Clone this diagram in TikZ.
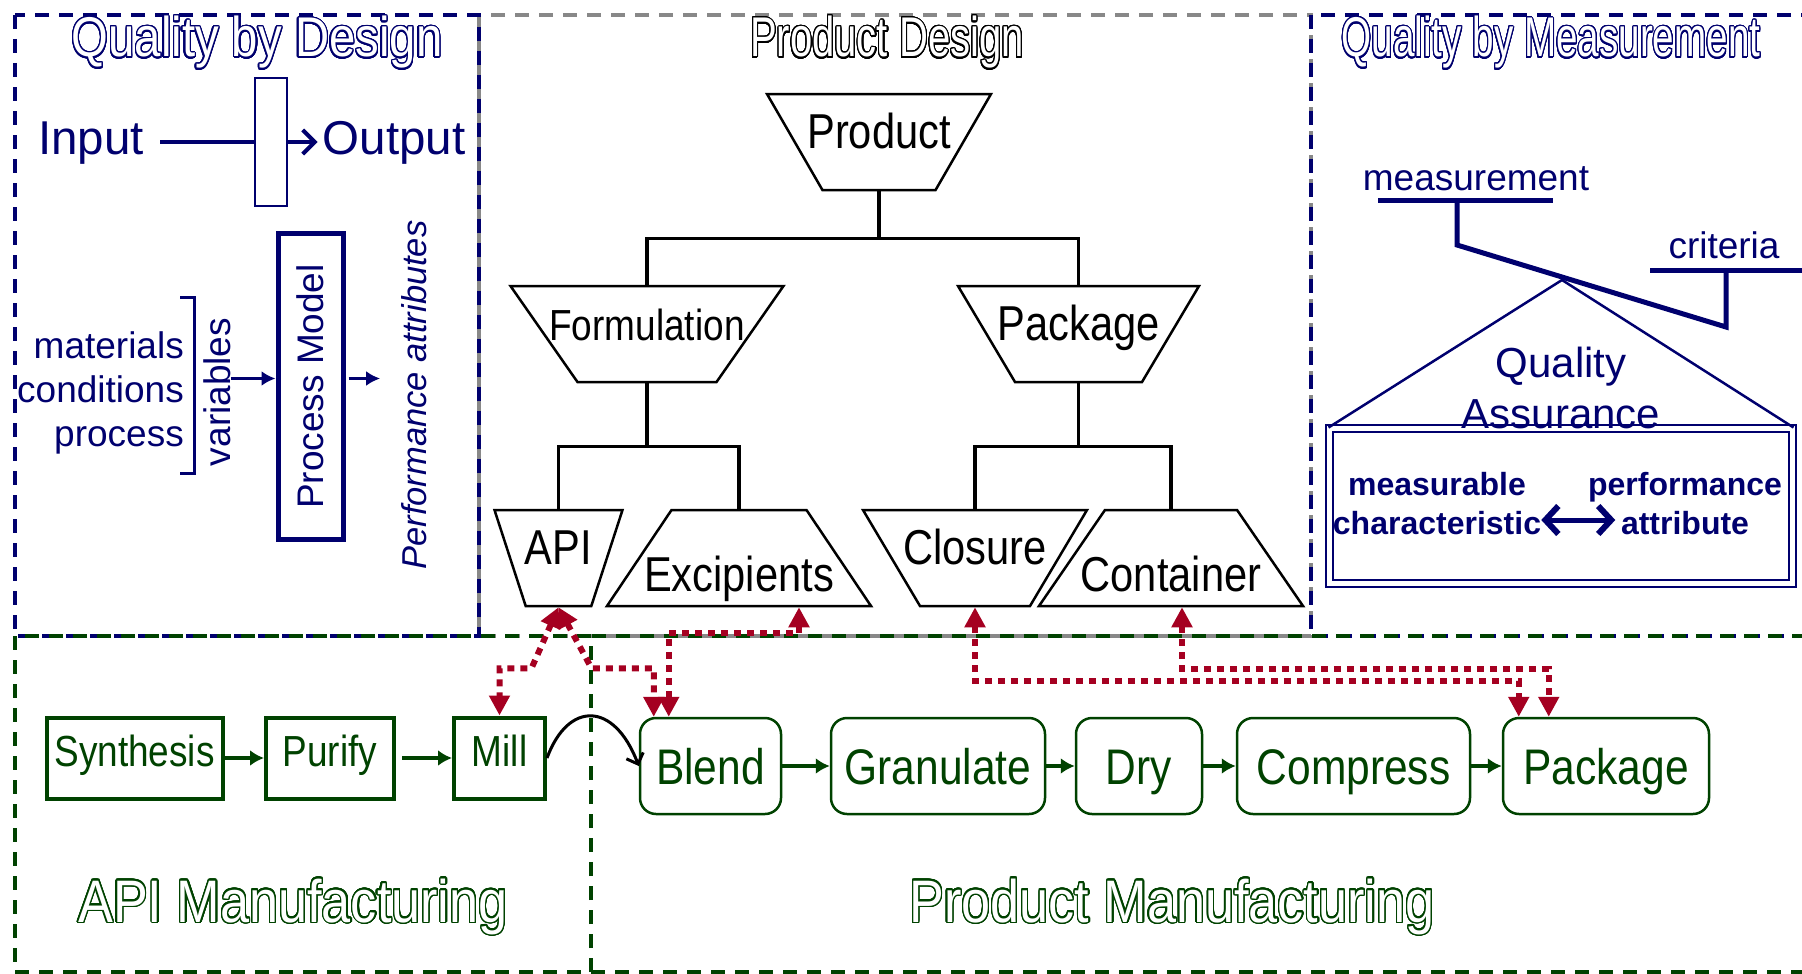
\documentclass[tikz,border=0pt]{standalone}
\usepackage{fontspec}
\setmainfont{Liberation Sans}
\newfontfamily\narrowfont{Liberation Sans}[FakeStretch=0.85]
\usepackage{graphicx}
\usepackage[copies]{contour}
\contourlength{1.5pt}
\contournumber{32}
\usetikzlibrary{arrows.meta,shapes.geometric,positioning}
\definecolor{qnavy}{RGB}{0,0,110}
\definecolor{mgreen}{RGB}{0,66,0}
\definecolor{linkred}{RGB}{165,0,33}
\definecolor{pdgray}{RGB}{136,136,136}
\newcommand{\hollow}[3]{\scalebox{#2}[1]{\contour{#1}{\textcolor{white}{#3}}}}
\begin{document}
\begin{tikzpicture}[x=1pt,y=-1pt,
  frame/.style={line width=3.5pt,dash pattern=on 14pt off 10pt},
  heading/.style={anchor=base,inner sep=0pt,font=\fontsize{56}{56}\selectfont},
  qtext/.style={text=qnavy,inner sep=0pt,font=\fontsize{37}{44}\selectfont},
  qarrow/.style={draw=qnavy,line width=3.5pt,-{Latex[length=14pt,width=15pt]}},
  trap/.style={draw,line width=2.5pt,trapezium,trapezium stretches body,minimum height=96pt,inner sep=0pt,font=\narrowfont\fontsize{49}{49}\selectfont},
  trapup/.style={trap,text height=54pt,text depth=42pt},
  traplow/.style={trap,text height=81pt,text depth=15pt},
  tree/.style={line width=3.5pt},
  abox/.style={draw=mgreen,line width=4pt,text=mgreen,inner sep=0pt,minimum height=81pt,text height=32pt,text depth=15pt,font=\narrowfont\fontsize{43.5}{43.5}\selectfont},
  mbox/.style={draw=mgreen,line width=2.5pt,rounded corners=16pt,text=mgreen,inner sep=0pt,minimum height=96pt,text height=36pt,text depth=0pt,font=\narrowfont\fontsize{50}{50}\selectfont},
  garrow/.style={draw=mgreen,line width=4.5pt,-{Latex[length=14pt,width=16pt]}},
  link/.style={draw=linkred,line width=6pt,dash pattern=on 7pt off 6pt,{Triangle[length=20pt,width=20pt]}-{Triangle[length=20pt,width=20pt]}}]
\useasboundingbox (0,0) rectangle (1802,974);
% frames
\draw[frame,draw=pdgray] (479,15) rectangle (1311,636);
\draw[frame,draw=qnavy] (15,15) rectangle (479,636);
\draw[frame,draw=qnavy] (1311,15) rectangle (1830,636);
\draw[frame,draw=mgreen] (15,636) rectangle (591,972);
\draw[frame,draw=mgreen] (1830,636) -- (591,636) (591,972) -- (1830,972);

% quality by design
\node[heading] (qbdtitle) at (257,57) {\hollow{qnavy}{0.845}{Quality by Design}};
\node[qtext,anchor=base,font=\fontsize{47.5}{50}\selectfont] (input) at (91,154) {Input};
\node[qtext,anchor=base,font=\fontsize{47.5}{50}\selectfont] (output) at (394,154) {Output};
\node[draw=qnavy,line width=1.5pt,minimum width=32pt,minimum height=128pt,inner sep=0pt] (gate) at (271,142) {};
\draw[qnavy,line width=4pt,shorten <=16pt] (input.east |- gate.west) -- (gate.west);
\draw[qnavy,line width=4pt,shorten >=5pt,-{Straight Barb[length=12pt,width=24pt,line width=4pt]}] (gate.east) -- (output.west |- gate.east);
\node[qtext,draw=qnavy,line width=5pt,minimum width=65pt,minimum height=306pt] (model) at (310.5,386.5) {\rotatebox{90}{Process Model}};
\node[qtext,anchor=east,align=right] (inputs) at (184,393) {materials\\conditions\\process};
\draw[qnavy,line width=3pt] (180,297) -- (194,297) -- (194,473) -- (180,473);
\node[qtext] (vars) at (217,392) {\rotatebox{90}{variables}};
\coordinate (vin) at ([yshift=8pt]model.west);
\draw[qarrow] (vin -| vars.east) -- (vin);
\node[qtext,font=\itshape\fontsize{34.5}{40}\selectfont] (perf) at (414,395) {\rotatebox{90}{Performance attributes}};
\coordinate (vout) at ([yshift=8pt]model.east);
\draw[qarrow,shorten <=3pt,shorten >=21pt] (vout) -- (vout -| perf.west);

% product design
\node[heading] (pdtitle) at (887,57) {\hollow{black}{0.715}{Product Design}};
\node[trapup,trapezium left angle=120,trapezium right angle=120,minimum width=224pt] (product) at (879,142) {\makebox[0pt]{Product}};
\node[trapup,trapezium left angle=124.9,trapezium right angle=124.9,minimum width=273pt,font=\narrowfont\fontsize{43.5}{43.5}\selectfont] (formulation) at (647,334) {\makebox[0pt]{Formulation}};
\node[trapup,trapezium left angle=120.7,trapezium right angle=120.7,minimum width=241pt] (package) at (1078.5,334) {\makebox[0pt]{Package}};
\node[trapup,trapezium left angle=108,trapezium right angle=108,minimum width=128pt] (api) at (558.5,558) {\makebox[0pt]{API}};
\node[traplow,trapezium left angle=56.1,trapezium right angle=56.1,minimum width=264pt] (excip) at (739,558) {\makebox[0pt]{Excipients}};
\node[trapup,trapezium left angle=120.7,trapezium right angle=120.7,minimum width=224pt] (closure) at (975,558) {\makebox[0pt]{Closure}};
\node[traplow,trapezium left angle=55.5,trapezium right angle=55.5,minimum width=264pt] (container) at (1171,558) {\makebox[0pt]{Container}};
\draw[tree] (product.south) -- ++(0,47) coordinate (pj);
\draw[tree] (formulation.north) |- (pj) -| (package.north);
\draw[tree] (formulation.south) -- ++(0,63) coordinate (fj);
\draw[tree] (api.north) |- (fj) -| (excip.north);
\draw[tree] (package.south) -- ++(0,63) coordinate (kj);
\draw[tree] (closure.north) |- (kj) -| (container.north);

% quality by measurement
\node[heading] (qbmtitle) at (1551,57) {\hollow{qnavy}{0.69}{Quality by Measurement}};
\node[qtext,anchor=base] (measure) at (1476,190) {measurement};
\node[qtext,anchor=base] (criteria) at (1724,258) {criteria};
\draw[qnavy,line width=5pt] (1378,200) -- (1553,200);
\draw[qnavy,line width=5pt] (1457,200) -- (1457,245) -- (1726,327) -- (1726,270);
\draw[qnavy,line width=5pt] (1650,270) -- (1810,270);
\node[draw=qnavy,double,double distance=5pt,line width=2pt,minimum width=463pt,minimum height=155pt] (qabox) at (1561,506) {};
\draw[qnavy,line width=2.5pt] (qabox.north west) -- (1562,280) -- (qabox.north east);
\node[qtext,align=center,font=\fontsize{42}{51}\selectfont] (qa) at (1561,388) {Quality\\Assurance};
\node[qtext,align=center,font=\bfseries\fontsize{32}{39}\selectfont] (charact) at (1437,504) {measurable\\characteristic};
\node[qtext,align=center,font=\bfseries\fontsize{32}{39}\selectfont] (perfattr) at (1685,504) {performance\\attribute};
\draw[qnavy,line width=5pt,{Straight Barb[length=13pt,width=28pt,line width=6pt]}-{Straight Barb[length=13pt,width=28pt,line width=6pt]}] ([yshift=-16pt]charact.east) -- ++(74,0);

% manufacturing
\node[heading,font=\fontsize{60}{60}\selectfont] (apititle) at (293,922) {\hollow{mgreen}{0.87}{API Manufacturing}};
\node[heading,font=\fontsize{60}{60}\selectfont] (pmtitle) at (1172,922) {\hollow{mgreen}{0.87}{Product Manufacturing}};
\node[abox,minimum width=176pt] (synth) at (134.5,758) {Synthesis};
\node[abox,minimum width=128pt] (purify) at (330,758) {Purify};
\node[abox,minimum width=91pt] (mill) at (499.5,758) {Mill};
\draw[garrow] (synth) -- (purify);
\draw[garrow,shorten <=6pt] (purify) -- (mill);
\node[mbox,minimum width=141pt] (blend) at (710.5,766) {Blend};
\node[mbox,minimum width=214pt] (granulate) at (938,766) {Granulate};
\node[mbox,minimum width=126pt] (dry) at (1139,766) {Dry};
\node[mbox,minimum width=233pt] (compress) at (1353.5,766) {Compress};
\node[mbox,minimum width=206pt] (pack) at (1606,766) {Package};
\draw[garrow] (blend) -- (granulate);
\draw[garrow] (granulate) -- (dry);
\draw[garrow] (dry) -- (compress);
\draw[garrow] (compress) -- (pack);
\draw[line width=3pt,-{Straight Barb[length=9pt,width=18pt]}] (mill.east) .. controls (568,701) and (614,701) .. (blend.west);

% links between design and manufacturing
\draw[link] (api.south) -- ++(-27,61) -| (mill.north);
\draw[link] (api.south) -- ++(33,61) -| ([xshift=15pt]blend.north west);
\draw[link] ([xshift=60pt]excip.south) -- ++(0,26) -| ([xshift=30pt]blend.north west);
\draw[link] (closure.south) -- ++(0,74) -| ([xshift=17pt]pack.north west);
\draw[link] ([xshift=11pt]container.south) -- ++(0,62) -| ([xshift=47pt]pack.north west);
\end{tikzpicture}
\end{document}
